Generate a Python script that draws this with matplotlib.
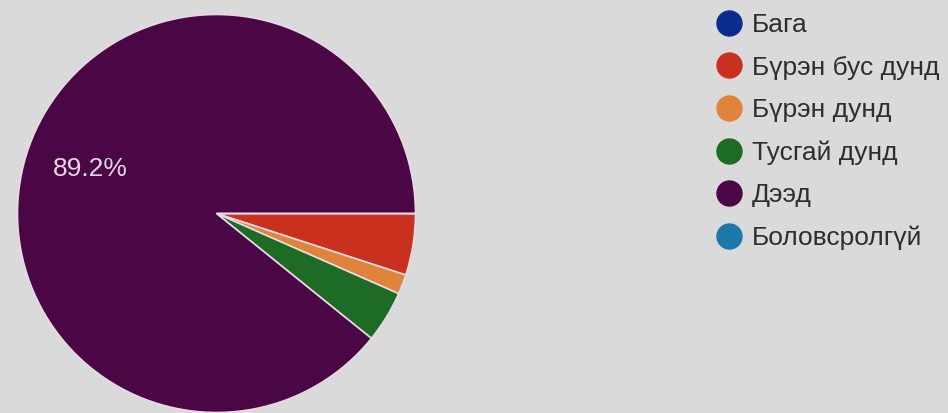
import matplotlib.pyplot as plt
from matplotlib.lines import Line2D

plt.rcParams['font.family'] = ['Liberation Sans', 'DejaVu Sans']

# Боловсролын түвшин (%)
ангилал = ['Бага', 'Бүрэн бус дунд', 'Бүрэн дунд', 'Тусгай дунд', 'Дээд', 'Боловсролгүй']
хувь = [0.0, 5.0, 1.6, 4.2, 89.2, 0.0]
өнгө = ['#0b2c8c', '#c9301e', '#e0843c', '#1d6b25', '#4a0645', '#1a79a6']

fig = plt.figure(figsize=(9.48, 4.13), dpi=100, facecolor='#dadada')

ax = fig.add_axes([15.5 / 948, -1.5 / 413, 402 / 948, 402 / 413])
ax.set_facecolor('#dadada')
wedges, texts, autotexts = ax.pie(
    хувь, colors=өнгө, startangle=0, counterclock=False, radius=1,
    autopct=lambda p: f'{p:.1f}%' if p > 10 else '', pctdistance=0.67,
    wedgeprops=dict(edgecolor='#e4dce2', linewidth=1.2),
    textprops=dict(color='#e6d6e4', fontsize=19))
ax.set_xlim(-1.01, 1.01)
ax.set_ylim(-1.01, 1.01)
ax.set_aspect('equal')
ax.axis('off')

handles = [Line2D([], [], marker='o', linestyle='', markersize=18,
                  markerfacecolor=c, markeredgecolor=c) for c in өнгө]
fig.legend(handles, ангилал, loc='upper left', bbox_to_anchor=(707 / 948, 0.994),
           frameon=False, fontsize=19, labelcolor='#2e2e2e',
           labelspacing=0.70, handlelength=0.9, handletextpad=0.4,
           borderaxespad=0)

fig.savefig('out.png', dpi=100, facecolor=fig.get_facecolor())
